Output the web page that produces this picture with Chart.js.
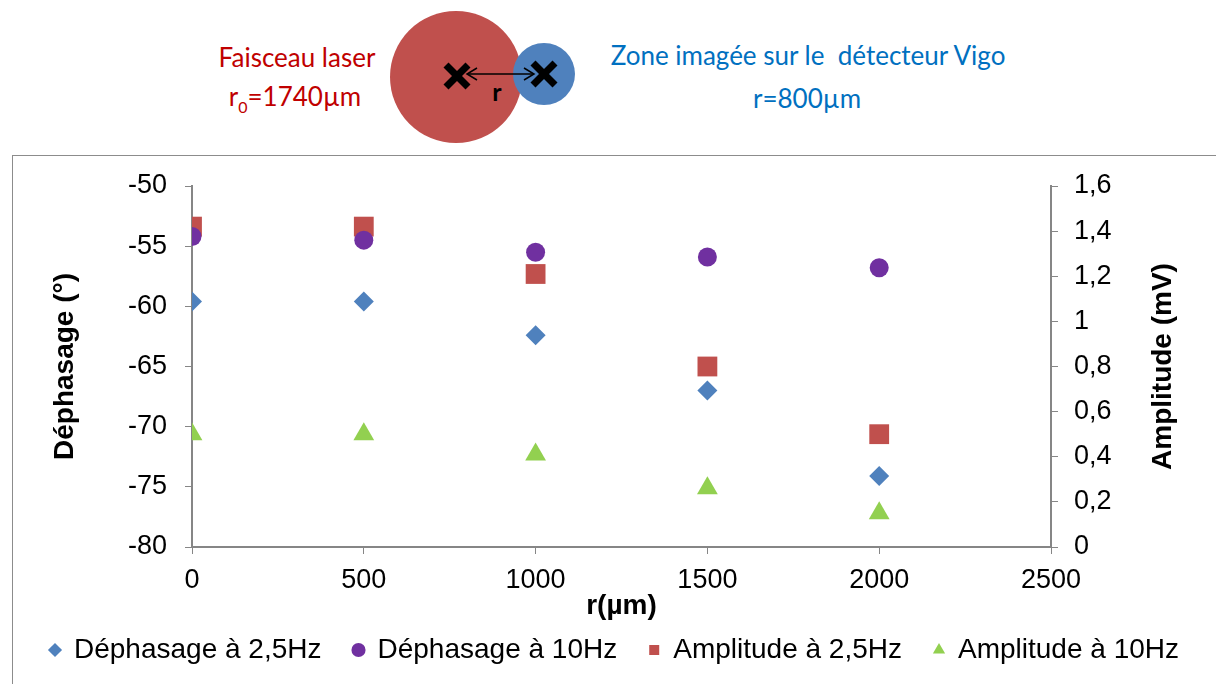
<!DOCTYPE html>
<html>
<head>
<meta charset="utf-8">
<script src="https://cdn.jsdelivr.net/npm/chart.js@4.4.0/dist/chart.umd.min.js"></script>
<style>
  html, body { margin: 0; padding: 0; background: #fff; width: 1216px; height: 684px; overflow: hidden; }
  .lbl { position: absolute; font-family: Lato, "Open Sans", sans-serif; font-size: 26px; white-space: nowrap; transform: translate(-50%, -50%); line-height: 1; }
  .red { color: #C00000; }
  .blue { color: #0070C0; }
  #frame { position: absolute; left: 12px; top: 155px; width: 1220px; height: 540px; border: 1px solid #8c8c8c; }
  #wrap { position: absolute; left: 13px; top: 156px; width: 1203px; height: 528px; }
</style>
</head>
<body>
<svg width="1216" height="150" style="position:absolute;left:0;top:0">
  <circle cx="456" cy="77" r="66" fill="#C0504D"/>
  <circle cx="544" cy="74" r="31" fill="#4F81BD"/>
  <g stroke="#000" stroke-width="7">
    <line x1="446" y1="65" x2="468" y2="87"/><line x1="468" y1="65" x2="446" y2="87"/>
    <line x1="533" y1="63" x2="555" y2="85"/><line x1="555" y1="63" x2="533" y2="85"/>
  </g>
  <g stroke="#000" stroke-width="1.5" fill="none">
    <line x1="467" y1="74" x2="534" y2="74"/>
    <polyline points="477,68 467,74 477,80"/>
    <polyline points="524,68 534,74 524,80"/>
  </g>
  <text x="497" y="101" font-family="Lato, sans-serif" font-weight="bold" font-size="25" text-anchor="middle">r</text>
</svg>
<div class="lbl red" style="left:297px;top:57px">Faisceau laser</div>
<div class="lbl red" style="left:295px;top:99px">r<sub style="font-size:16px">0</sub>=1740µm</div>
<div class="lbl blue" style="left:808px;top:55px">Zone imagée sur le&nbsp; détecteur Vigo</div>
<div class="lbl blue" style="left:807px;top:98px">r=800µm</div>
<div id="frame"></div>
<div id="wrap"><canvas id="chart"></canvas></div>
<script>
// values
const rValues = [0, 500, 1000, 1500, 2000];
const dephasage25 = [-59.6, -59.6, -62.4, -67.0, -74.1];
const dephasage10 = [-54.2, -54.5, -55.5, -55.9, -56.8];
const amplitude25 = [1.42, 1.42, 1.21, 0.80, 0.50];
const amplitude10 = [0.50, 0.50, 0.41, 0.26, 0.15];
const seriesNames = ["Déphasage à 2,5Hz", "Déphasage à 10Hz", "Amplitude à 2,5Hz", "Amplitude à 10Hz"];
const rightTitle = 'Amplitude (mV)';

const axisGrey = '#868686';
Chart.defaults.font.family = '"Liberation Sans", Arial, sans-serif';
Chart.defaults.color = '#000';

function pts(ys) {
    return rValues.map((x, i) => ({x: x, y: ys[i]}));
}
function comma(v) {
    return (Math.round(v * 10) / 10).toString().replace('.', ',');
}

// right axis title reads bottom to top, as in the original
const rightTitlePlugin = {
    id: 'rightTitle',
    afterDraw(chart) {
        const c = chart.ctx;
        const area = chart.chartArea;
        c.save();
        c.translate(1150, (area.top + area.bottom) / 2);
        c.rotate(-Math.PI / 2);
        c.font = 'bold 28px "Liberation Sans", Arial, sans-serif';
        c.fillStyle = '#000';
        c.textAlign = 'center';
        c.textBaseline = 'middle';
        c.fillText(rightTitle, 0, 0);
        c.restore();
    }
};

let ctx = document.getElementById("chart").getContext("2d");
window.myScatter = new Chart(ctx, {
    type: 'scatter',
    plugins: [rightTitlePlugin],
    data: {
        datasets: [
            {label: seriesNames[0], data: pts(dephasage25), yAxisID: 'y', pointStyle: 'rectRot', pointRadius: 10, backgroundColor: '#4F81BD', borderColor: '#4F81BD', borderWidth: 0},
            {label: seriesNames[1], data: pts(dephasage10), yAxisID: 'y', pointStyle: 'circle', pointRadius: 9.5, backgroundColor: '#7030A0', borderColor: '#7030A0', borderWidth: 0},
            {label: seriesNames[2], data: pts(amplitude25), yAxisID: 'y2', pointStyle: 'rect', pointRadius: 14, backgroundColor: '#C0504D', borderColor: '#C0504D', borderWidth: 0},
            {label: seriesNames[3], data: pts(amplitude10), yAxisID: 'y2', pointStyle: 'triangle', pointRadius: 12, backgroundColor: '#92D050', borderColor: '#92D050', borderWidth: 0}
        ]
    },
    options: {
        responsive: true,
        maintainAspectRatio: false,
        animation: false,
        layout: {padding: {left: 0, right: 0, top: 30, bottom: 10}},
        plugins: {
            tooltip: {enabled: false},
            legend: {
                position: 'bottom',
                labels: {usePointStyle: true, boxWidth: 10, boxHeight: 10, padding: 32, font: {size: 28}}
            }
        },
        scales: {
            x: {
                type: 'linear', min: 0, max: 2500,
                ticks: {stepSize: 500, font: {size: 27}, padding: 10, maxRotation: 0, callback: (v) => String(v)},
                grid: {drawOnChartArea: false, color: axisGrey, tickLength: 7},
                border: {color: axisGrey, width: 2},
                title: {display: true, text: 'r(µm)', font: {size: 28, weight: 'bold'}, padding: {top: 0, bottom: -19}},
                afterFit: (scale) => { scale.height = 57; scale.paddingLeft = 0; scale.paddingRight = 0; }
            },
            y: {
                position: 'left', min: -80, max: -50,
                ticks: {stepSize: 5, font: {size: 27}, padding: 18},
                grid: {drawOnChartArea: false, color: axisGrey, tickLength: 7},
                border: {color: axisGrey, width: 2},
                title: {display: true, text: 'Déphasage (°)', font: {size: 28, weight: 'bold'}, padding: {top: 35, bottom: 0}},
                afterFit: (scale) => { scale.width = 179; scale.paddingTop = 0; scale.paddingBottom = 0; }
            },
            y2: {
                position: 'right', min: 0, max: 1.6,
                ticks: {stepSize: 0.2, font: {size: 27}, padding: 16, callback: (v) => comma(v)},
                grid: {drawOnChartArea: false, color: axisGrey, tickLength: 7},
                border: {color: axisGrey, width: 2},
                afterFit: (scale) => { scale.width = 165; scale.paddingTop = 0; scale.paddingBottom = 0; }
            }
        }
    }
});
</script>
</body>
</html>
